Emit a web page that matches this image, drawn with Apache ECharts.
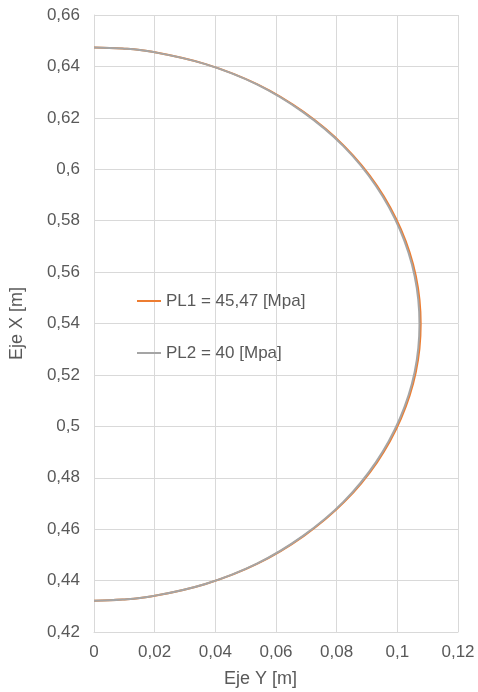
<!DOCTYPE html>
<html>
<head>
<meta charset="utf-8">
<script src="https://cdn.jsdelivr.net/npm/echarts@6/dist/echarts.min.js"></script>
<style>
html,body{margin:0;padding:0;background:#fff;}
#chart{width:478px;height:692px;}
</style>
</head>
<body>
<div id="chart"></div>
<script>
var seriesNames = ['PL1 = 45,47 [Mpa]', 'PL2 = 40 [Mpa]'];
var xAxisTitle = 'Eje Y [m]';
var yAxisTitle = 'Eje X [m]';

var pl1X = [0, 0.0094, 0.0187, 0.0368, 0.0539, 0.0692, 0.0825, 0.0933, 0.1012, 0.1061, 0.1077, 0.1061, 0.1012, 0.0933, 0.0825, 0.0692, 0.0539, 0.0368, 0.0187, 0.0094, 0];
var pl1Y = [0.6474, 0.6470, 0.6458, 0.6409, 0.6330, 0.6222, 0.6090, 0.5936, 0.5766, 0.5585, 0.5398, 0.5211, 0.5030, 0.4860, 0.4706, 0.4574, 0.4466, 0.4387, 0.4338, 0.4326, 0.4322];

var pl2X = [0, 0.0094, 0.0186, 0.0367, 0.0537, 0.0689, 0.0822, 0.0929, 0.1008, 0.1057, 0.1073, 0.1057, 0.1008, 0.0929, 0.0822, 0.0689, 0.0537, 0.0367, 0.0186, 0.0094, 0];
var pl2Y = [0.6474, 0.6470, 0.6458, 0.6409, 0.6330, 0.6222, 0.6090, 0.5936, 0.5766, 0.5585, 0.5398, 0.5211, 0.5030, 0.4860, 0.4706, 0.4574, 0.4466, 0.4387, 0.4338, 0.4326, 0.4322];

function pairs(xs, ys){ return xs.map(function(x,i){ return [x, ys[i]]; }); }
function fmt(v){ return String(+(+v).toFixed(2)).replace('.', ','); }

var textColor = '#595959';
var gridColor = '#d9d9d9';
var fontFam = '"Liberation Sans", Arial, sans-serif';

var chart = echarts.init(document.getElementById('chart'), null, {renderer:'canvas'});
chart.setOption({
  backgroundColor: '#fff',
  animation: false,
  grid: {left: 92, right: 20, top: 15, bottom: 60, containLabel: false},
  legend: {
    orient: 'vertical', left: 137, top: 292, itemGap: 34, padding: 0,
    icon: 'rect', itemWidth: 24, itemHeight: 2,
    textStyle: {color: textColor, fontSize: 17, fontFamily: fontFam, lineHeight: 18},
    data: seriesNames
  },
  xAxis: {
    type: 'value', min: 0, max: 0.12, interval: 0.02,
    axisLine: {show: true, lineStyle: {color: gridColor, width: 1}},
    axisTick: {show: false},
    splitLine: {show: true, lineStyle: {color: gridColor, width: 1}},
    axisLabel: {color: textColor, fontSize: 17, fontFamily: fontFam, margin: 12, formatter: fmt}
  },
  yAxis: {
    type: 'value', min: 0.42, max: 0.66, interval: 0.02,
    name: yAxisTitle, nameLocation: 'middle', nameGap: 68,
    nameTextStyle: {color: textColor, fontSize: 18, fontFamily: fontFam},
    axisLine: {show: true, lineStyle: {color: gridColor, width: 1}},
    axisTick: {show: false},
    splitLine: {show: true, lineStyle: {color: gridColor, width: 1}},
    axisLabel: {color: textColor, fontSize: 17, fontFamily: fontFam, margin: 14, formatter: fmt}
  },
  graphic: [{
    type: 'text', left: 224, top: 670,
    style: {text: xAxisTitle, fill: textColor, font: '18px ' + fontFam}
  }],
  series: [
    {name: seriesNames[0], type: 'line', data: pairs(pl1X, pl1Y), smooth: 0.4, showSymbol: false,
     lineStyle: {color: '#ED7D31', width: 2}, itemStyle: {color: '#ED7D31'}},
    {name: seriesNames[1], type: 'line', data: pairs(pl2X, pl2Y), smooth: 0.4, showSymbol: false,
     lineStyle: {color: '#A5A5A5', width: 2}, itemStyle: {color: '#A5A5A5'}}
  ]
});
</script>
</body>
</html>
